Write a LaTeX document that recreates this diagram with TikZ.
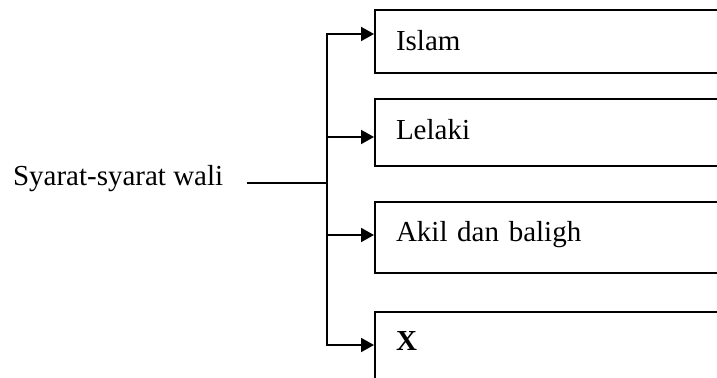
\documentclass[tikz,border=0pt]{standalone}
\usepackage{fontspec}
\setmainfont{Liberation Serif}
\usetikzlibrary{positioning, arrows.meta}

\begin{document}
\begin{tikzpicture}[x=0.5pt, y=-0.5pt, >={Triangle[length=6.5pt,width=7pt]},
                line width=1pt, font=\fontsize{14.5}{17}\selectfont]

    % Define the style for the boxes
    \tikzset{cond/.style={draw, anchor=north west, inner xsep=10.5pt, inner ysep=0pt,
                          text width=179pt, align=left}}

    \clip (0,0) rectangle (717,378);

    % Nodes
    \node[anchor=base west, inner sep=0pt] (wali) at (12,186) {Syarat-syarat wali};
    \coordinate (fork) at (327,183);
    \node[cond, text height=20.5pt, text depth=11pt] (islam) at (374,9) {Islam};
    \node[cond, text height=20.5pt, text depth=13pt] (lelaki) at (374,98) {Lelaki};
    \node[cond, text height=20pt, text depth=15.5pt] (akil) at (374,201) {Akil dan baligh};
    \node[cond, text height=19.5pt, text depth=14.5pt] (x) at (374,311) {\textbf{X}};

    % Paths
    \draw ([xshift=11.5pt]wali.east |- fork) -- (fork);
    \draw[->] (fork) |- ([yshift=3.75pt]islam.west);
    \draw[->] (fork) |- ([yshift=-2.25pt]lelaki.west);
    \draw[->] (fork) |- ([yshift=1.25pt]akil.west);
    \draw[->] (fork) |- ([yshift=0.5pt]x.west);
\end{tikzpicture}
\end{document}
